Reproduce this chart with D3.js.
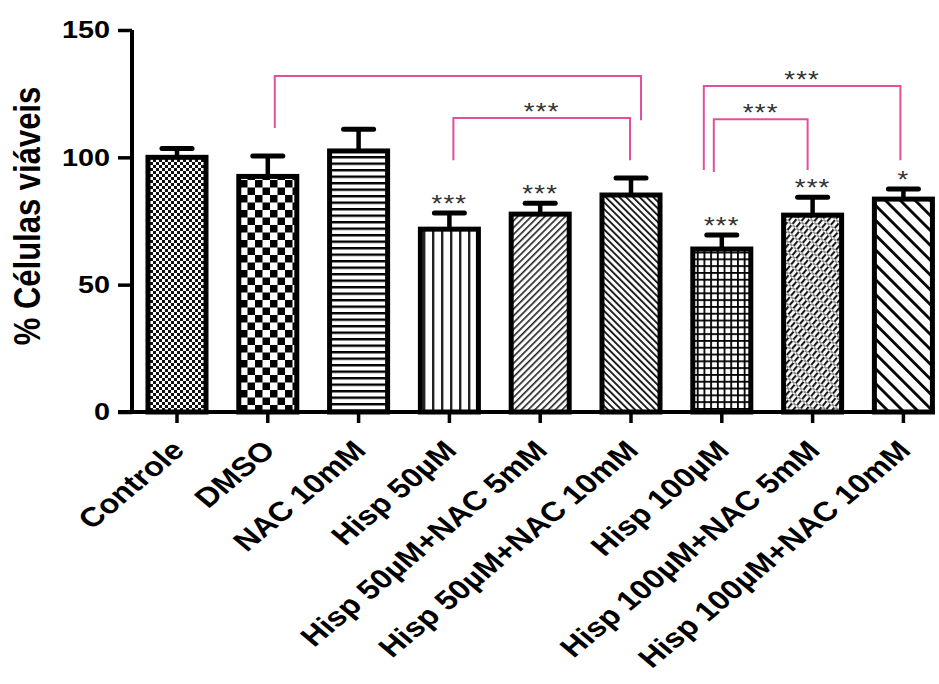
<!DOCTYPE html>
<html>
<head>
<meta charset="utf-8">
<script src="https://cdn.jsdelivr.net/npm/d3@7"></script>
<style>
  html, body { margin: 0; padding: 0; background: #fff; }
  svg { display: block; }
  text { font-family: "Liberation Sans", Arial, sans-serif; }
</style>
</head>
<body>
<svg id="chart" width="939" height="684"></svg>
<script>
// Cell viability by treatment group (mean ± SEM)
const categories = [
  "Controle", "DMSO", "NAC 10mM", "Hisp 50µM", "Hisp 50µM+NAC 5mM",
  "Hisp 50µM+NAC 10mM", "Hisp 100µM", "Hisp 100µM+NAC 5mM", "Hisp 100µM+NAC 10mM"
];
const means = [100, 92.5, 102.5, 71.8, 77.7, 85.2, 64, 77.3, 83.6];
const sems  = [3.5, 8, 8.5, 6.3, 4.3, 6.7, 5.5, 7, 4];
const barMarks = ["", "", "", "***", "***", "", "***", "***", "*"];
const yTicks = [0, 50, 100, 150];
const yLabel = "% Células viáveis";

// Pairwise comparisons: group indices, bracket level and leg ends (in % units)
const compFrom   = [1, 3, 6, 6];
const compTo     = [5, 5, 8, 7];
const compTop    = [131.9, 115.4, 128, 115];
const compLegL   = [111.5, 98.9, 95, 94.2];
const compLegR   = [114.6, 98.9, 98.9, 95];
const compLabels = ["", "***", "***", "***"];

const svg = d3.select("#chart");
const SX = 1.2; // horizontal text stretch

const x = d3.scaleBand()
  .domain(categories)
  .range([132, 948.4])
  .paddingInner(0.361)
  .paddingOuter(0.176);
const y = d3.scaleLinear().domain([0, 150]).range([412, 30]);

// ---------- fill patterns ----------
const defs = svg.append("defs");
function pattern(id, w, h, draw, transform) {
  const p = defs.append("pattern").attr("id", id)
    .attr("patternUnits", "userSpaceOnUse").attr("width", w).attr("height", h);
  if (transform) p.attr("patternTransform", transform);
  p.append("rect").attr("width", w).attr("height", h).attr("fill", "#fff");
  draw(p);
}
// fine checker
pattern("p0", 6, 6, p => {
  p.append("rect").attr("x", 0).attr("y", 0).attr("width", 3).attr("height", 3).attr("fill", "#111");
  p.append("rect").attr("x", 3).attr("y", 3).attr("width", 3).attr("height", 3).attr("fill", "#111");
});
// coarse checker
pattern("p1", 15, 15, p => {
  p.append("rect").attr("x", 0).attr("y", 0).attr("width", 7.5).attr("height", 7.5).attr("fill", "#000");
  p.append("rect").attr("x", 7.5).attr("y", 7.5).attr("width", 7.5).attr("height", 7.5).attr("fill", "#000");
});
// horizontal lines
pattern("p2", 10, 6.5, p => {
  p.append("rect").attr("x", 0).attr("y", 0).attr("width", 10).attr("height", 2.4).attr("fill", "#000");
});
// vertical lines
pattern("p3", 9, 10, p => {
  p.append("rect").attr("x", 0).attr("y", 0).attr("width", 2.4).attr("height", 10).attr("fill", "#222");
});
// fine "/" lines
pattern("p4", 4.8, 10, p => {
  p.append("rect").attr("x", 0).attr("y", 0).attr("width", 1.6).attr("height", 10).attr("fill", "#222");
}, "rotate(45)");
// fine "\" lines
pattern("p5", 4.8, 10, p => {
  p.append("rect").attr("x", 0).attr("y", 0).attr("width", 1.8).attr("height", 10).attr("fill", "#111");
}, "rotate(-45)");
// grid
pattern("p6", 6.7, 6.8, p => {
  p.append("rect").attr("x", 0).attr("y", 0).attr("width", 1.8).attr("height", 6.8).attr("fill", "#000");
  p.append("rect").attr("x", 0).attr("y", 0).attr("width", 6.7).attr("height", 1.8).attr("fill", "#000");
});
// broken "/" lines
pattern("p7", 5, 8, p => {
  p.append("rect").attr("x", 0).attr("y", 0).attr("width", 2.1).attr("height", 6.2).attr("fill", "#1a1a1a");
  p.append("rect").attr("x", 2.1).attr("y", 6.4).attr("width", 2.9).attr("height", 1.2).attr("fill", "#444");
}, "rotate(40)");
// wide "\" lines
pattern("p8", 10.5, 10, p => {
  p.append("rect").attr("x", 0).attr("y", 0).attr("width", 2.8).attr("height", 10).attr("fill", "#000");
}, "rotate(-45)");

// ---------- bars ----------
const BAR_STROKE = 5;
const bw = x.bandwidth();
svg.append("g").selectAll("rect")
  .data(categories)
  .join("rect")
  .attr("x", d => x(d))
  .attr("y", (d, i) => y(means[i]))
  .attr("width", bw)
  .attr("height", (d, i) => y(0) - y(means[i]))
  .attr("fill", (d, i) => `url(#p${i})`)
  .attr("stroke", "#000")
  .attr("stroke-width", BAR_STROKE);

// ---------- error bars (upper) ----------
const eg = svg.append("g").attr("stroke", "#000");
categories.forEach((c, i) => {
  const cx = x(c) + bw / 2;
  eg.append("line")
    .attr("x1", cx).attr("x2", cx)
    .attr("y1", y(means[i])).attr("y2", y(means[i] + sems[i]))
    .attr("stroke-width", 4.5);
  eg.append("line")
    .attr("x1", cx - 15).attr("x2", cx + 15)
    .attr("y1", y(means[i] + sems[i])).attr("y2", y(means[i] + sems[i]))
    .attr("stroke-width", 5).attr("stroke-linecap", "round");
});

// ---------- axes ----------
const yAxis = svg.append("g")
  .attr("transform", "translate(132,0)")
  .call(d3.axisLeft(y).tickValues(yTicks).tickSize(14).tickSizeOuter(0).tickPadding(0));
yAxis.select(".domain").attr("stroke-width", 4).attr("d", `M0,${y(0) + 2}V${y(150)}`);
yAxis.selectAll(".tick line").attr("stroke-width", 3.5);
yAxis.selectAll(".tick text")
  .attr("x", null)
  .attr("transform", `translate(-22,0) scale(${SX},1)`)
  .attr("font-size", 24)
  .attr("font-weight", "bold")
  .attr("fill", "#000");

const xAxis = svg.append("g")
  .attr("transform", `translate(0,${y(0)})`)
  .call(d3.axisBottom(x).tickSize(11).tickSizeOuter(0));
xAxis.select(".domain").remove();
xAxis.selectAll(".tick line").attr("stroke-width", 3.5);
xAxis.selectAll(".tick text")
  .attr("y", null).attr("dy", null)
  .attr("text-anchor", "end")
  .attr("transform", `translate(9,40) scale(${SX},1) rotate(-45)`)
  .attr("font-size", 27)
  .attr("font-weight", "bold")
  .attr("fill", "#000");

// baseline
const lastCat = categories[categories.length - 1];
svg.append("line")
  .attr("x1", 118).attr("x2", x(lastCat) + bw + BAR_STROKE / 2)
  .attr("y1", y(0)).attr("y2", y(0))
  .attr("stroke", "#000").attr("stroke-width", 4);

// y-axis title
svg.append("text")
  .attr("transform", `translate(40,216) scale(${SX},1) rotate(-90)`)
  .attr("text-anchor", "middle")
  .attr("font-size", 31)
  .attr("font-weight", "bold")
  .attr("fill", "#000")
  .text(yLabel);

// ---------- significance marks ----------
function stars(cx, cyCenter, label) {
  svg.append("text")
    .attr("transform", `translate(${cx},${cyCenter + 13}) scale(${SX},1)`)
    .attr("text-anchor", "middle")
    .attr("font-size", 23)
    .attr("letter-spacing", 1)
    .attr("fill", "#333")
    .text(label);
}
categories.forEach((c, i) => {
  if (!barMarks[i]) return;
  const cx = x(c) + bw / 2;
  stars(cx, y(means[i] + sems[i]) - 14, barMarks[i]);
});

// brackets
const legOffL = [7, 4, -18, -8];
const legOffR = [10, -1, -3, -5];
const PINK = "#e2509a";
compFrom.forEach((f, k) => {
  const xl = x(categories[f]) + bw / 2 + legOffL[k];
  const xr = x(categories[compTo[k]]) + bw / 2 + legOffR[k];
  const yt = y(compTop[k]);
  svg.append("path")
    .attr("d", `M${xl},${y(compLegL[k])}V${yt}H${xr}V${y(compLegR[k])}`)
    .attr("fill", "none")
    .attr("stroke", PINK)
    .attr("stroke-width", 2);
  if (compLabels[k]) stars((xl + xr) / 2, yt - 11, compLabels[k]);
});
</script>
</body>
</html>
